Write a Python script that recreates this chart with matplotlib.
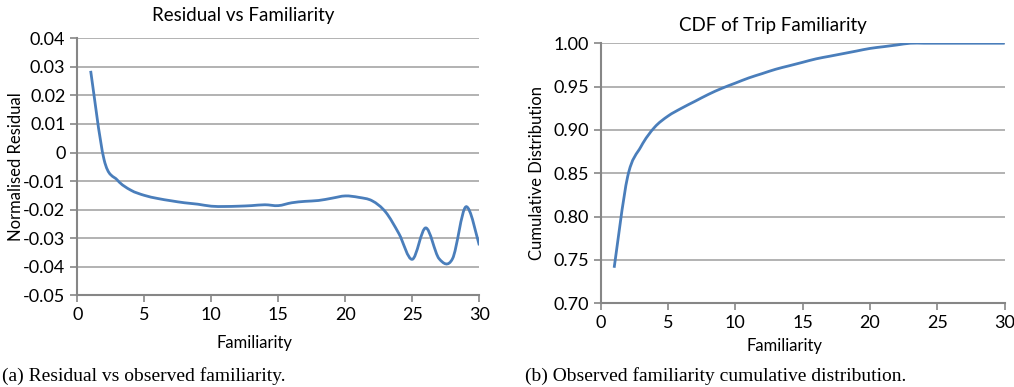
import numpy as np
import matplotlib
matplotlib.use("Agg")
import matplotlib.pyplot as plt
from matplotlib.path import Path
from matplotlib.patches import PathPatch

# data
familiarity = list(range(1, 31))
residual = [0.0286, -0.0025, -0.0097, -0.0132, -0.0150, -0.0161, -0.0169, -0.0176,
            -0.0181, -0.0188, -0.0189, -0.0188, -0.0186, -0.0183, -0.0186, -0.0176,
            -0.0171, -0.0168, -0.0160, -0.0152, -0.0157, -0.0169, -0.0208, -0.0284,
            -0.0374, -0.0264, -0.0372, -0.0372, -0.0190, -0.0325]
cdf = [0.741, 0.846, 0.881, 0.903, 0.916, 0.925, 0.933, 0.941, 0.948, 0.954,
       0.960, 0.965, 0.970, 0.974, 0.978, 0.982, 0.985, 0.988, 0.991, 0.994,
       0.996, 0.998, 1.000, 1.000, 1.000, 1.000, 1.000, 1.000, 1.000, 1.000]

res_ticks = [0.04, 0.03, 0.02, 0.01, 0, -0.01, -0.02, -0.03, -0.04, -0.05]
res_labels = ["0.04", "0.03", "0.02", "0.01", "0", "-0.01", "-0.02", "-0.03", "-0.04", "-0.05"]
cdf_ticks = [0.70, 0.75, 0.80, 0.85, 0.90, 0.95, 1.00]
x_ticks = [0, 5, 10, 15, 20, 25, 30]

LINE = "#4a7ebb"
GRID = "#a6a6a6"
AX = "#868686"
FONT = "Lato"


def smooth_path(x, y):
    # excel style smoothed line: cubic bezier through the points
    p = np.column_stack([x, y]).astype(float)
    p = np.vstack([p[0], p, p[-1]])
    verts = [p[1]]
    codes = [Path.MOVETO]
    for i in range(1, len(p) - 2):
        c1 = p[i] + (p[i + 1] - p[i - 1]) / 6
        c2 = p[i + 1] - (p[i + 2] - p[i]) / 6
        verts += [c1, c2, p[i + 1]]
        codes += [Path.CURVE4] * 3
    return Path(verts, codes)


def style(ax):
    ax.grid(axis="y", color=GRID, lw=1.2)
    ax.set_axisbelow(True)
    for s in ["top", "right"]:
        ax.spines[s].set_visible(False)
    for s in ["left", "bottom"]:
        ax.spines[s].set_color(AX)
        ax.spines[s].set_linewidth(1.5)
    ax.tick_params(colors=AX, width=1.2, length=5, labelcolor="black", labelsize=13)
    ax.set_xlim(0, 30)
    ax.set_xticks(x_ticks)
    for lab in ax.get_xticklabels() + ax.get_yticklabels():
        lab.set_fontfamily(FONT)


fig = plt.figure(figsize=(10.14, 3.87), dpi=100)

ax1 = fig.add_axes([0.0762, 0.237, 0.3965, 0.664])
ax1.add_patch(PathPatch(smooth_path(familiarity, residual), fill=False, ec=LINE, lw=2))
ax1.set_ylim(-0.05, 0.04)
ax1.set_yticks(res_ticks)
ax1.set_yticklabels(res_labels)
style(ax1)

ax2 = fig.add_axes([0.5924, 0.2163, 0.3984, 0.672])
ax2.add_patch(PathPatch(smooth_path(familiarity, cdf), fill=False, ec=LINE, lw=2))
ax2.set_ylim(0.70, 1.00)
ax2.set_yticks(cdf_ticks)
ax2.set_yticklabels(["%.2f" % t for t in cdf_ticks])
style(ax2)

# titles and axis labels placed like the excel chart areas
fig.text(243 / 1014, 1 - 16 / 387, "Residual vs Familiarity", ha="center", va="center", fontsize=13.5, family=FONT)
fig.text(773 / 1014, 1 - 25 / 387, "CDF of Trip Familiarity", ha="center", va="center", fontsize=13.5, family=FONT)
fig.text(255 / 1014, 1 - 343 / 387, "Familiarity", ha="center", va="center", fontsize=12, family=FONT)
fig.text(785 / 1014, 1 - 346 / 387, "Familiarity", ha="center", va="center", fontsize=12, family=FONT)
fig.text(16 / 1014, 1 - 167 / 387, "Normalised Residual", ha="center", va="center", rotation=90, fontsize=12, family=FONT)
fig.text(537 / 1014, 1 - 173 / 387, "Cumulative Distribution", ha="center", va="center", rotation=90, fontsize=12, family=FONT)

fig.text(2 / 1014, 1 - 376 / 387, "(a) Residual vs observed familiarity.", ha="left", va="center", fontsize=14, family="Liberation Serif")
fig.text(525 / 1014, 1 - 376 / 387, "(b) Observed familiarity cumulative distribution.", ha="left", va="center", fontsize=14, family="Liberation Serif")

fig.savefig("out.png", dpi=100)
